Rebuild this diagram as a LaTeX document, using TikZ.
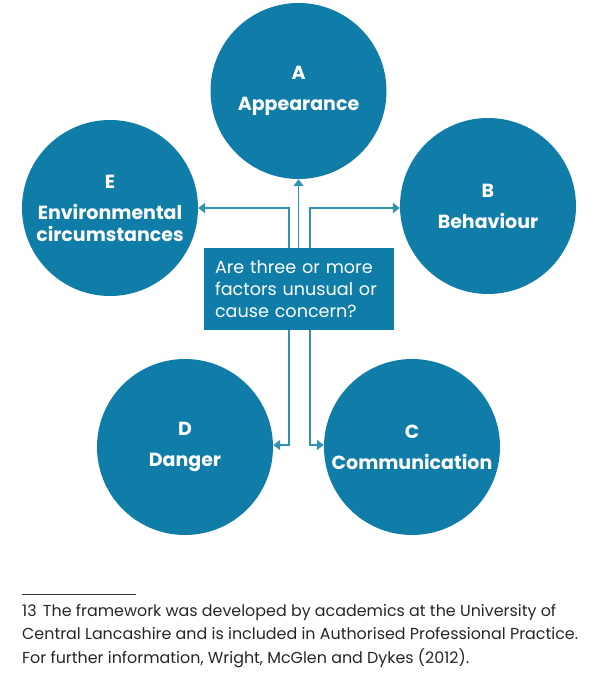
\documentclass[tikz,border=0pt]{standalone}
\usepackage{fontspec}
\setmainfont{Poppins}
\usetikzlibrary{arrows.meta}
\definecolor{fblue}{HTML}{0F7DA8}
\tikzset{
  circ/.style={circle, fill=fblue, minimum size=176pt, inner sep=0pt, text=white, align=center, font=\bfseries\fontsize{19}{31}\selectfont},
  qbox/.style={fill=fblue, text=white, minimum width=190pt, minimum height=82pt, inner sep=0pt, align=left, text width=168pt, font=\fontsize{17.6}{22}\selectfont},
  conn/.style={draw=fblue!85, line width=1.6pt, -{Triangle[length=7pt,width=10pt]}},
}
\begin{document}
\begin{tikzpicture}[x=1pt,y=-1pt]
\useasboundingbox (0,0) rectangle (603,675);
\node[circ] (A) at (298.5,91) {A\\Appearance};
\node[circ] (B) at (488,206) {B\\Behaviour};
\node[circ] (E) at (110,208) {E\\Environmental\\[-9pt]circumstances};
\node[circ] (D) at (185,447) {D\\Danger};
\node[circ] (C) at (412,447) {C\\Communication};
\node[qbox] (Q) at (299,289) {Are three or more\\factors unusual or\\cause concern?};
\coordinate (el) at (289,208);
\coordinate (er) at (310,208);
\coordinate (dl) at (289,445);
\coordinate (dr) at (310,445);
\draw[conn] (Q.north -| el) -- (el) -- (E.east |- el);
\draw[conn] (Q.north -| er) -- (er) -- (B.west |- er);
\draw[conn] (Q.north -| A) -- (A.south);
\draw[conn] (Q.south -| dl) -- (dl) -- (D.east |- dl);
\draw[conn] (Q.south -| dr) -- (dr) -- (C.west |- dr);
\coordinate (fl0) at (22,594);
\coordinate (fl1) at (136,594);
\draw[line width=0.8pt, black!80] (fl0) -- (fl1);
\node[anchor=north west, inner sep=0pt, align=left, text=black!85, font=\fontsize{15.9}{23.5}\selectfont] (fn) at (22,604) {13\hspace{0.4em}The framework was developed by academics at the University of\\Central Lancashire and is included in Authorised Professional Practice.\\For further information, Wright, McGlen and Dykes (2012).};
\end{tikzpicture}
\end{document}
